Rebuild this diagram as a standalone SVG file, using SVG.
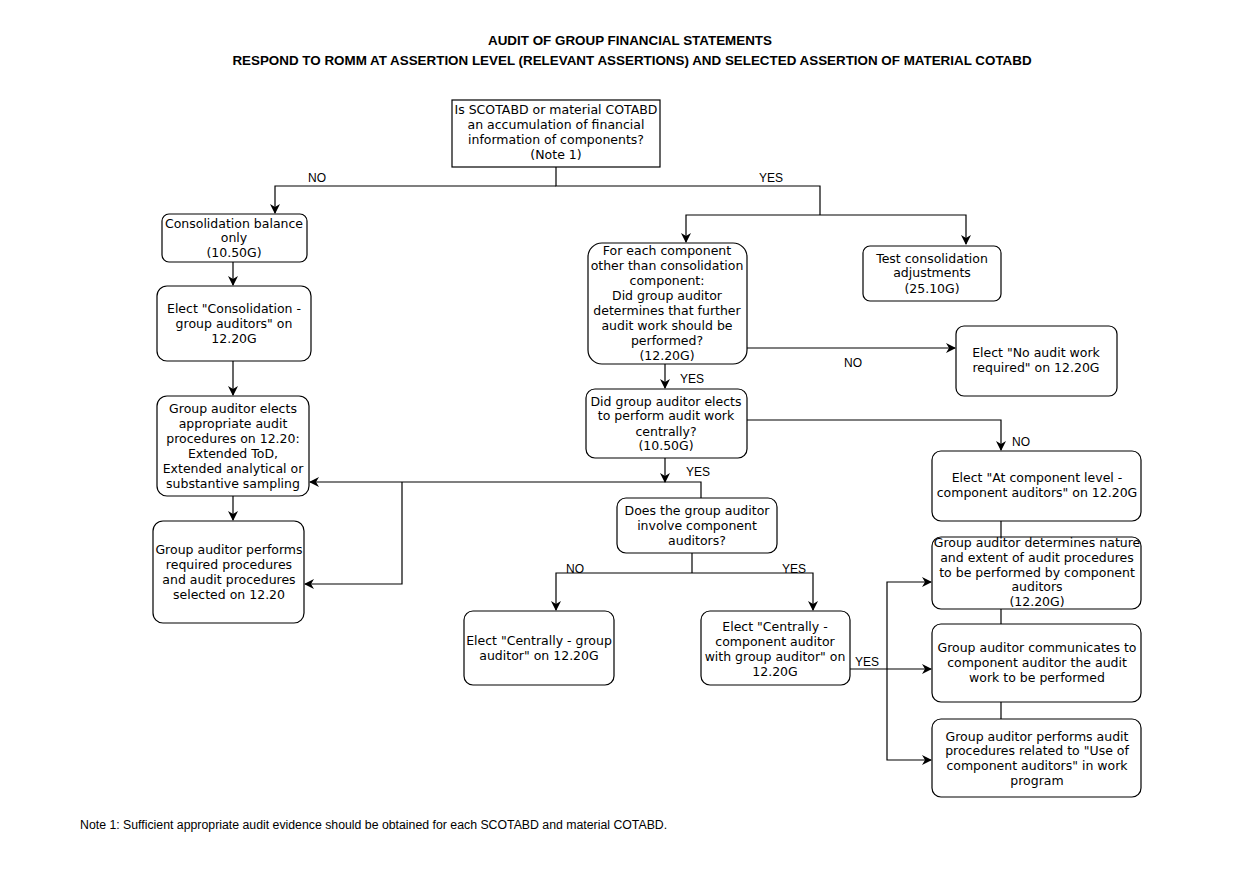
<svg xmlns="http://www.w3.org/2000/svg" width="1260" height="871" viewBox="0 0 1260 871">
<defs>
<marker id="ah" markerWidth="10" markerHeight="10" refX="9" refY="5" orient="auto" markerUnits="userSpaceOnUse">
<path d="M0,0 L10,5 L0,10 L3,5 Z" fill="#000"/>
</marker>
<style>
.box{fill:#fff;stroke:#000;stroke-width:1.2}
.t{font-family:"DejaVu Sans",Verdana,sans-serif;font-size:12.5px;fill:#000;text-anchor:middle}
.lbl{font-family:"Liberation Sans",Arial,sans-serif;font-size:12px;fill:#000}
.title{font-family:"Liberation Sans",Arial,sans-serif;font-size:13.4px;font-weight:bold;fill:#000;text-anchor:middle}
.c{fill:none;stroke:#000;stroke-width:1.2}
.ca{fill:none;stroke:#000;stroke-width:1.2;marker-end:url(#ah)}
</style>
</defs>
<rect width="1260" height="871" fill="#fff"/>
<text class="title" x="630" y="45">AUDIT OF GROUP FINANCIAL STATEMENTS</text>
<text class="title" x="632" y="65">RESPOND TO ROMM AT ASSERTION LEVEL (RELEVANT ASSERTIONS) AND SELECTED ASSERTION OF MATERIAL COTABD</text>

<g id="connectors">
<path class="c" d="M556,167 V186 H820 V215"/>
<path class="ca" d="M556,186 H275 V213"/>
<path class="ca" d="M820,215 H686 V242"/>
<path class="ca" d="M820,215 H966 V244"/>
<path class="ca" d="M233,262 V285"/>
<path class="ca" d="M233,361 V395"/>
<path class="ca" d="M233,496 V520"/>
<path class="ca" d="M747,348 H955"/>
<path class="ca" d="M665,364 V388"/>
<path class="ca" d="M747,420 H1001 V450"/>
<path class="ca" d="M665,458 V482"/>
<path class="c" d="M665,482 H701 V498"/>
<path class="ca" d="M665,482 H310"/>
<path class="ca" d="M402,482 V584 H305"/>
<path class="c" d="M692,553 V573"/>
<path class="ca" d="M692,573 H556 V610"/>
<path class="ca" d="M692,573 H813 V610"/>
<path class="ca" d="M850,669 H931"/>
<path class="ca" d="M887,669 V582 H931"/>
<path class="ca" d="M887,669 V760 H931"/>
<path class="c" d="M1001,521 V537"/>
<path class="c" d="M1001,609 V624"/>
<path class="c" d="M1001,702 V719"/>
<text class="lbl" x="308" y="182">NO</text>
<text class="lbl" x="759" y="182">YES</text>
<text class="lbl" x="844" y="367">NO</text>
<text class="lbl" x="680" y="383">YES</text>
<text class="lbl" x="1012" y="446">NO</text>
<text class="lbl" x="686" y="476">YES</text>
<text class="lbl" x="566" y="573">NO</text>
<text class="lbl" x="782" y="573">YES</text>
<text class="lbl" x="855" y="666">YES</text>
</g>

<g id="n1">
<rect class="box" x="452" y="100" width="208" height="67"/>
<text class="t" x="556" y="114">Is SCOTABD or material COTABD</text>
<text class="t" x="556" y="129">an accumulation of financial</text>
<text class="t" x="556" y="144">information of components?</text>
<text class="t" x="556" y="159">(Note 1)</text>
</g>
<g id="n2">
<rect class="box" x="162" y="214" width="145" height="48" rx="7"/>
<text class="t" x="234" y="228">Consolidation balance</text>
<text class="t" x="234" y="242">only</text>
<text class="t" x="234" y="257">(10.50G)</text>
</g>
<g id="n3">
<rect class="box" x="157" y="286" width="154" height="75" rx="10"/>
<text class="t" x="234" y="313">Elect "Consolidation -</text>
<text class="t" x="234" y="328">group auditors" on</text>
<text class="t" x="234" y="343">12.20G</text>
</g>
<g id="n4">
<rect class="box" x="157" y="396" width="152" height="100" rx="10"/>
<text class="t" x="233" y="413">Group auditor elects</text>
<text class="t" x="233" y="428">appropriate audit</text>
<text class="t" x="233" y="443">procedures on 12.20:</text>
<text class="t" x="233" y="458">Extended ToD,</text>
<text class="t" x="233" y="473">Extended analytical or</text>
<text class="t" x="233" y="488">substantive sampling</text>
</g>
<g id="n5">
<rect class="box" x="153" y="521" width="151" height="102" rx="10"/>
<text class="t" x="229" y="554">Group auditor performs</text>
<text class="t" x="229" y="569">required procedures</text>
<text class="t" x="229" y="584">and audit procedures</text>
<text class="t" x="229" y="599">selected on 12.20</text>
</g>
<g id="n6">
<rect class="box" x="588" y="243" width="159" height="121" rx="14"/>
<text class="t" x="667" y="255">For each component</text>
<text class="t" x="667" y="270">other than consolidation</text>
<text class="t" x="667" y="285">component:</text>
<text class="t" x="667" y="300">Did group auditor</text>
<text class="t" x="667" y="315">determines that further</text>
<text class="t" x="667" y="330">audit work should be</text>
<text class="t" x="667" y="345">performed?</text>
<text class="t" x="667" y="360">(12.20G)</text>
</g>
<g id="n7">
<rect class="box" x="863" y="246" width="138" height="55" rx="7"/>
<text class="t" x="932" y="263">Test consolidation</text>
<text class="t" x="932" y="277">adjustments</text>
<text class="t" x="932" y="293">(25.10G)</text>
</g>
<g id="n8">
<rect class="box" x="956" y="326" width="161" height="70" rx="8"/>
<text class="t" x="1036" y="357">Elect "No audit work</text>
<text class="t" x="1036" y="372">required" on 12.20G</text>
</g>
<g id="n9">
<rect class="box" x="586" y="389" width="161" height="69" rx="9"/>
<text class="t" x="666" y="406">Did group auditor elects</text>
<text class="t" x="666" y="420">to perform audit work</text>
<text class="t" x="666" y="436">centrally?</text>
<text class="t" x="666" y="450">(10.50G)</text>
</g>
<g id="n10">
<rect class="box" x="617" y="498" width="160" height="55" rx="9"/>
<text class="t" x="697" y="515">Does the group auditor</text>
<text class="t" x="697" y="530">involve component</text>
<text class="t" x="697" y="545">auditors?</text>
</g>
<g id="n11">
<rect class="box" x="464" y="611" width="150" height="74" rx="9"/>
<text class="t" x="539" y="645">Elect "Centrally - group</text>
<text class="t" x="539" y="660">auditor" on 12.20G</text>
</g>
<g id="n12">
<rect class="box" x="701" y="611" width="149" height="74" rx="9"/>
<text class="t" x="775" y="631">Elect "Centrally -</text>
<text class="t" x="775" y="646">component auditor</text>
<text class="t" x="775" y="661">with group auditor" on</text>
<text class="t" x="775" y="676">12.20G</text>
</g>
<g id="n13">
<rect class="box" x="932" y="451" width="209" height="70" rx="9"/>
<text class="t" x="1037" y="482">Elect "At component level -</text>
<text class="t" x="1037" y="497">component auditors" on 12.20G</text>
</g>
<g id="n14">
<rect class="box" x="932" y="537" width="209" height="72" rx="9"/>
<text class="t" x="1037" y="547">Group auditor determines nature</text>
<text class="t" x="1037" y="562">and extent of audit procedures</text>
<text class="t" x="1037" y="577">to be performed by component</text>
<text class="t" x="1037" y="591">auditors</text>
<text class="t" x="1037" y="606">(12.20G)</text>
</g>
<g id="n15">
<rect class="box" x="932" y="624" width="209" height="78" rx="9"/>
<text class="t" x="1037" y="652">Group auditor communicates to</text>
<text class="t" x="1037" y="667">component auditor the audit</text>
<text class="t" x="1037" y="682">work to be performed</text>
</g>
<g id="n16">
<rect class="box" x="932" y="719" width="209" height="78" rx="9"/>
<text class="t" x="1037" y="741">Group auditor performs audit</text>
<text class="t" x="1037" y="755">procedures related to "Use of</text>
<text class="t" x="1037" y="770">component auditors" in work</text>
<text class="t" x="1037" y="785">program</text>
</g>
<text class="lbl" x="80" y="829" style="font-size:12.3px">Note 1: Sufficient appropriate audit evidence should be obtained for each SCOTABD and material COTABD.</text>
</svg>
